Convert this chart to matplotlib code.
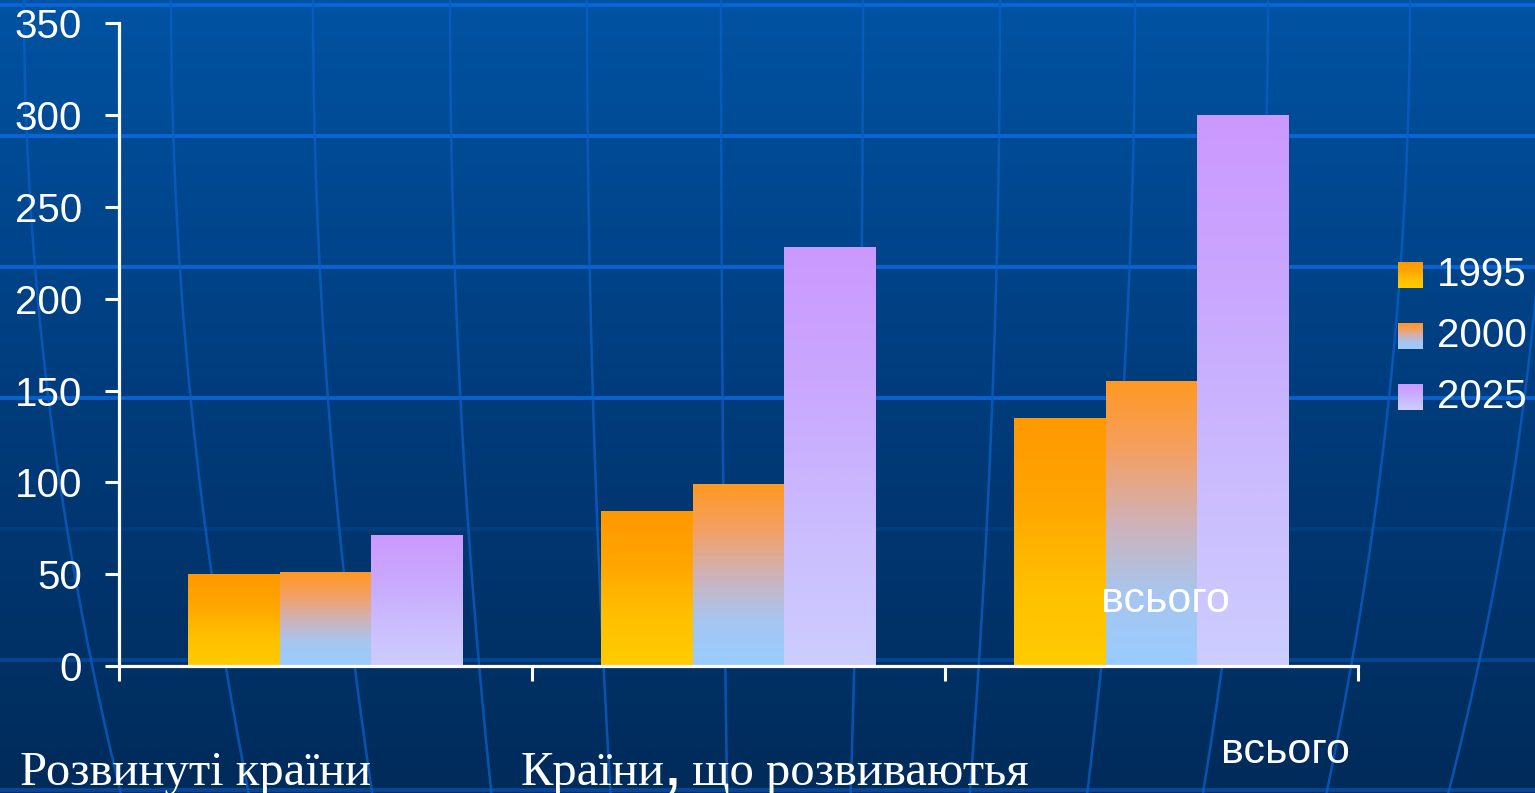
import numpy as np
import matplotlib.pyplot as plt
from matplotlib.colors import LinearSegmentedColormap

W, H = 1535, 793

# data
groups = ['Розвинуті країни', 'Країни', 'всього']
years = ['1995', '2000', '2025']
v1995 = [50, 84, 135]
v2000 = [51, 99, 155]
v2025 = [71, 228, 300]
values = [v1995, v2000, v2025]
yticks = [0, 50, 100, 150, 200, 250, 300, 350]

# gradient stops, bottom of bar -> top of bar
fills = [
    ['#ffcc00', '#ffbf00', '#ffa500', '#ff9900'],
    ['#99ccff', '#a6c6f0', '#cfb2b8', '#f4a063', '#ff9922'],
    ['#cdcdfe', '#cbbcfe', '#c9a8fe', '#cc99ff'],
]
cmaps = [LinearSegmentedColormap.from_list('f%d' % i, c) for i, c in enumerate(fills)]
grad = np.linspace(0, 1, 256).reshape(-1, 1)

fig = plt.figure(figsize=(W / 100, H / 100), dpi=100)

# background: blue gradient with a globe grid
bg = fig.add_axes([0, 0, 1, 1], zorder=0)
bgmap = LinearSegmentedColormap.from_list('bg', ['#002b5a', '#003c7c', '#0053a3'])
bg.imshow(grad[::-1], extent=[0, W, H, 0], aspect='auto', cmap=bgmap)
for yy, a in [(5, 1.0), (136, 1.0), (267, 0.95), (398, 0.9), (529, 0.15), (660, 0.4), (790, 0.5)]:
    bg.plot([0, W], [yy, yy], color='#0a66d6', lw=2.8, alpha=a)
cx = 768
yy = np.linspace(0, H, 200)
for x0 in [-120, 24, 171, 313, 450, 587, 721, 863, 1000, 1135, 1268, 1410, 1550]:
    xx = cx + (x0 - cx) * (1 - 0.13 * (yy / H) ** 2)
    bg.plot(xx, yy, color='#0a5ec4', lw=1.8, alpha=0.8)
bg.set_xlim(0, W)
bg.set_ylim(H, 0)
bg.axis('off')

# main chart
ax = fig.add_axes([119 / W, 1 - 666 / H, (1358 - 119) / W, (666 - 23.3) / H], zorder=1)
ax.set_facecolor('none')
x = np.arange(len(groups))
width = 2 / 9
for i, vals in enumerate(values):
    bars = ax.bar(x + (i - 1) * width, vals, width, color='none', zorder=2)
    for r in bars:
        ax.imshow(grad, extent=[r.get_x(), r.get_x() + r.get_width(), 0, r.get_height()],
                  aspect='auto', cmap=cmaps[i], origin='lower', zorder=2)

ax.set_xlim(-0.5, 2.5)
ax.set_ylim(0, 350)
ax.set_yticks(yticks)
ax.set_xticks([-0.5, 0.5, 1.5, 2.5])
ax.set_xticklabels([])
for s in ['top', 'right']:
    ax.spines[s].set_visible(False)
for s in ['left', 'bottom']:
    ax.spines[s].set_color('white')
    ax.spines[s].set_linewidth(2.3)
ax.tick_params(axis='y', colors='white', length=10, width=2.2, pad=16.5,
               labelsize=29)
ax.tick_params(axis='x', colors='white', length=11, width=2.2)
for t in ax.get_yticklabels():
    t.set_fontfamily('Liberation Sans')

# legend and labels drawn in pixel space on top
top = fig.add_axes([0, 0, 1, 1], zorder=3)
for i, yr in enumerate(years):
    yc = 275 + i * 61
    top.imshow(grad, extent=[1398, 1423, yc + 13, yc - 13], aspect='auto',
               cmap=cmaps[i], origin='lower', zorder=3)
    top.text(1437, yc, yr, color='white', fontsize=29, family='Liberation Sans',
             va='center', ha='left')
top.set_xlim(0, W)
top.set_ylim(H, 0)
top.axis('off')

serif = dict(color='white', fontsize=35, family='Liberation Serif', va='baseline')
top.text(20, 785, groups[0], **serif)
t1 = top.text(521, 785, groups[1], **serif)
fig.canvas.draw()
r = fig.canvas.get_renderer()
x1 = top.transData.inverted().transform(t1.get_window_extent(r))[1][0]
t2 = top.text(x1 + 1, 785, ',', color='white', fontsize=36, fontweight='bold',
              family='Liberation Sans', va='baseline')
x2 = top.transData.inverted().transform(t2.get_window_extent(r))[1][0]
top.text(x2, 785, ' що розвиваютья', **serif)

sans = dict(color='white', fontsize=31, family='Liberation Sans', ha='center', va='center')
top.text(1165, 601, groups[2], **sans)
top.text(1285, 752, groups[2], **sans)

fig.savefig('out.png', dpi=100)
